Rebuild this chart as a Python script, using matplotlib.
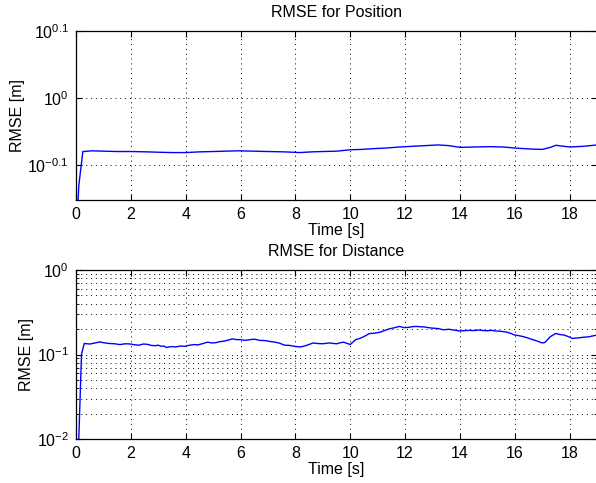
import numpy as np
import matplotlib
matplotlib.use('Agg')
import matplotlib.pyplot as plt
from matplotlib.ticker import FixedLocator, FixedFormatter, LogLocator, NullFormatter

# Data
t_pos = [0.0, 0.1, 0.25, 0.6, 1.0, 1.5, 2.0, 2.6, 3.0, 3.5, 4.0, 4.5, 5.0, 5.9, 6.5, 7.0,
         7.6, 8.16, 8.6, 9.0, 9.5, 10.0, 10.4, 10.8, 11.3, 11.8, 12.5, 13.2, 13.6, 14.0,
         14.5, 15.1, 15.6, 16.0, 16.6, 17.0, 17.3, 17.5, 18.0, 18.5, 19.0]
rmse_pos = [0.60, 0.74, 0.833, 0.835, 0.834, 0.833, 0.833, 0.832, 0.831, 0.830, 0.830,
            0.832, 0.833, 0.835, 0.834, 0.833, 0.832, 0.830, 0.832, 0.833, 0.834, 0.838,
            0.839, 0.841, 0.843, 0.846, 0.849, 0.852, 0.850, 0.845, 0.846, 0.847, 0.846,
            0.843, 0.840, 0.839, 0.845, 0.851, 0.846, 0.848, 0.852]

t_dist = [0.0, 0.08, 0.2, 0.3, 0.5, 0.7, 0.87, 1.0, 1.2, 1.4, 1.6, 1.8, 2.0, 2.15, 2.3,
          2.45, 2.6, 2.75, 2.9, 3.0, 3.1, 3.2, 3.3, 3.4, 3.5, 3.65, 3.8, 3.95, 4.1, 4.3,
          4.45, 4.6, 4.8, 4.95, 5.1, 5.25, 5.4, 5.55, 5.7, 5.85, 6.0, 6.15, 6.3, 6.5, 6.7,
          6.9, 7.05, 7.2, 7.4, 7.6, 7.8, 7.9, 8.05, 8.2, 8.4, 8.65, 8.8, 9.0, 9.15, 9.25,
          9.4, 9.5, 9.65, 9.75, 9.9, 10.0, 10.2, 10.35, 10.5, 10.7, 10.9, 11.1, 11.25,
          11.4, 11.6, 11.8, 11.95, 12.1, 12.25, 12.4, 12.55, 12.7, 12.85, 13.0, 13.2,
          13.4, 13.6, 13.8, 14.0, 14.15, 14.3, 14.5, 14.7, 14.85, 15.0, 15.15, 15.3,
          15.5, 15.7, 15.85, 16.0, 16.15, 16.3, 16.45, 16.6, 16.8, 17.0, 17.1, 17.2,
          17.3, 17.4, 17.5, 17.65, 17.8, 17.95, 18.1, 18.3, 18.5, 18.7, 18.85, 19.0]
rmse_dist = [0.004, 0.006, 0.10, 0.135, 0.133, 0.137, 0.141, 0.138, 0.135, 0.134, 0.131,
             0.134, 0.133, 0.130, 0.129, 0.133, 0.132, 0.128, 0.127, 0.129, 0.125, 0.126,
             0.121, 0.123, 0.124, 0.123, 0.126, 0.125, 0.128, 0.131, 0.130, 0.134, 0.140,
             0.137, 0.138, 0.142, 0.144, 0.148, 0.153, 0.150, 0.150, 0.147, 0.149, 0.152,
             0.147, 0.146, 0.143, 0.141, 0.137, 0.129, 0.128, 0.126, 0.124, 0.123, 0.128,
             0.137, 0.135, 0.134, 0.136, 0.137, 0.135, 0.134, 0.138, 0.140, 0.135, 0.131,
             0.150, 0.155, 0.163, 0.177, 0.179, 0.184, 0.192, 0.200, 0.207, 0.215, 0.208,
             0.209, 0.213, 0.215, 0.213, 0.212, 0.208, 0.205, 0.203, 0.196, 0.199, 0.194,
             0.190, 0.191, 0.193, 0.192, 0.195, 0.192, 0.191, 0.193, 0.190, 0.188, 0.184,
             0.178, 0.170, 0.167, 0.163, 0.158, 0.152, 0.145, 0.137, 0.139, 0.150, 0.163,
             0.170, 0.177, 0.172, 0.170, 0.163, 0.155, 0.157, 0.160, 0.162, 0.166, 0.170]

xticks = [0, 2, 4, 6, 8, 10, 12, 14, 16, 18]

plt.rcParams['font.family'] = ['Liberation Sans', 'DejaVu Sans']
plt.rcParams['mathtext.fontset'] = 'custom'
plt.rcParams['mathtext.rm'] = 'Liberation Sans'
plt.rcParams['mathtext.it'] = 'Liberation Sans'

fs = 11.5
grid_style = dict(linestyle=(0, (1, 4)), color='black', linewidth=0.7)

fig = plt.figure(figsize=(5.96, 4.83), dpi=100)
ax1 = fig.add_axes([76 / 596, (483 - 200) / 483, 521 / 596, 169 / 483])
ax2 = fig.add_axes([76 / 596, (483 - 439) / 483, 521 / 596, 169 / 483])

for ax in (ax1, ax2):
    ax.set_yscale('log')
    ax.set_xlim(0, 19)
    ax.set_xticks(xticks)
    ax.tick_params(direction='in', top=True, right=True, length=4, labelsize=fs, pad=5)
    ax.tick_params(which='minor', direction='in', top=True, right=True, length=2)
    ax.grid(True, which='major', **grid_style)
    ax.set_xlabel('Time [s]', fontsize=fs, labelpad=1)
    ax.set_ylabel('RMSE [m]', fontsize=fs, labelpad=2)
    for s in ax.spines.values():
        s.set_linewidth(0.9)

# top panel
ax1.plot(t_pos, rmse_pos, color='#0000ff', linewidth=1)
ax1.set_ylim(10 ** -0.1515, 10 ** 0.1)
ax1.yaxis.set_major_locator(FixedLocator([10 ** -0.1, 1.0, 10 ** 0.1]))
ax1.yaxis.set_major_formatter(FixedFormatter([r'$10^{-0.1}$', r'$10^{0}$', r'$10^{0.1}$']))
ax1.yaxis.set_minor_locator(FixedLocator([]))
ax1.set_title('RMSE for Position', fontsize=fs, pad=10)

# bottom panel
ax2.plot(t_dist, rmse_dist, color='#0000ff', linewidth=1)
ax2.set_ylim(1e-2, 1)
ax2.yaxis.set_major_locator(FixedLocator([1e-2, 1e-1, 1]))
ax2.yaxis.set_major_formatter(FixedFormatter([r'$10^{-2}$', r'$10^{-1}$', r'$10^{0}$']))
ax2.yaxis.set_minor_locator(LogLocator(base=10, subs=np.arange(2, 10)))
ax2.yaxis.set_minor_formatter(NullFormatter())
ax2.grid(True, which='minor', axis='y', **grid_style)
ax2.set_title('RMSE for Distance', fontsize=fs, pad=10)

fig.savefig('out.png', dpi=100)
